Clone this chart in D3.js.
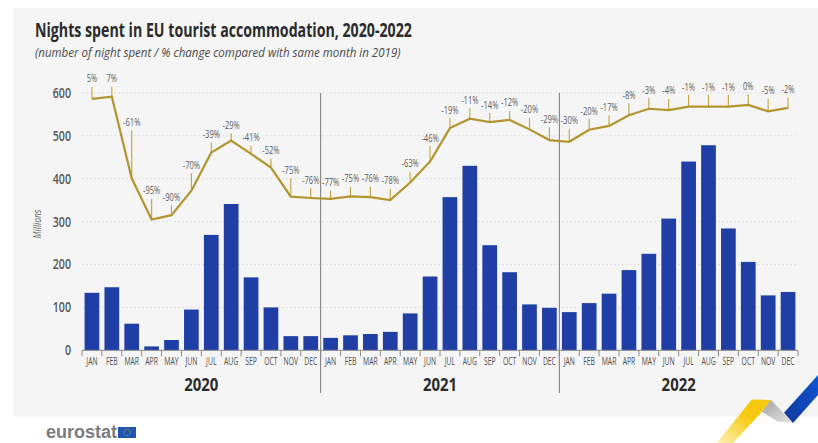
<!DOCTYPE html>
<html>
<head>
<meta charset="utf-8">
<style>
html,body{margin:0;padding:0;background:#fff}
svg{display:block}
</style>
<script src="https://cdn.jsdelivr.net/npm/d3@7"></script>
</head>
<body>
<svg id="chart" width="818" height="443"></svg>
<script>
const months = ["JAN","FEB","MAR","APR","MAY","JUN","JUL","AUG","SEP","OCT","NOV","DEC"];
const years = ["2020","2021","2022"];
const yTicks = [0,100,200,300,400,500,600];

// Nights spent per month, millions
const nights = [134,147,62,9,24,95,269,341,170,100,33,33,
                29,35,38,43,86,172,357,430,245,182,107,99,
                89,110,132,187,225,307,440,478,284,206,128,136];
// Index line, same unit
const trend = [586,591,401,305,315,372,461,489,458,426,358,355,
               353,359,357,350,391,440,518,540,532,537,515,490,
               486,514,523,548,563,560,568,568,568,572,557,565];
// Height each leader line rises to
const leaderTop = [614,614,513,353,337,413,484,506,477,446,401,378,
                   372,381,381,376,416,476,541,564,553,558,542,520,
                   516,539,548,576,588,586,595,595,595,597,586,589];
// Change against the same month of 2019
const changes = ["5%","7%","-61%","-95%","-90%","-70%","-39%","-29%","-41%","-52%","-75%","-76%",
                 "-77%","-75%","-76%","-78%","-63%","-46%","-19%","-11%","-14%","-12%","-20%","-29%",
                 "-30%","-20%","-17%","-8%","-3%","-4%","-1%","-1%","-1%","0%","-5%","-2%"];

const FONT = "'Open Sans','Noto Sans',sans-serif";
const BLUE = "#1f3fa6", GOLD = "#b3952f", INK = "#2b2b2b";

// The house typeface is condensed, so glyphs are squeezed horizontally by a factor k
const squeezedAt = (px, py, k) => `translate(${px},${py}) scale(${k},1)`;

const svg = d3.select("#chart");
const defs = svg.append("defs");

const x = d3.scaleBand().domain(d3.range(36)).range([82,798]).paddingInner(0.26).paddingOuter(0.13);
const y = d3.scaleLinear().domain([0,600]).range([350.3,92.9]);
const yearStart = i => x.step()*i*12 + 82;
const mid = i => x(i) + x.bandwidth()/2;

// Panel
svg.append("rect").attr("x",13).attr("y",8).attr("width",805).attr("height",408.5).attr("fill","#f5f5f5");

// Heading
svg.append("text").attr("transform",squeezedAt(35,37,0.709)).attr("font-family",FONT).attr("font-weight",700)
  .attr("font-size",20).attr("fill",INK)
  .text("Nights spent in EU tourist accommodation, 2020-2022");
svg.append("text").attr("transform",squeezedAt(35,57,0.961)).attr("font-family",FONT).attr("font-style","italic")
  .attr("font-size",12).attr("fill","#4a4a4a")
  .text("(number of night spent / % change compared with same month in 2019)");

// Gridlines
svg.append("g").selectAll("line").data(yTicks.slice(1)).join("line")
  .attr("x1",82).attr("x2",798).attr("y1",d=>y(d)).attr("y2",d=>y(d))
  .attr("stroke","#e0e0e0").attr("stroke-width",1).attr("stroke-dasharray","2 2");

// Value axis
const yAxis = svg.append("g").attr("transform","translate(71,0)")
  .call(d3.axisLeft(y).tickValues(yTicks).tickSize(0).tickPadding(0));
yAxis.select(".domain").remove();
yAxis.selectAll("text").attr("font-family",FONT).attr("font-weight",600)
  .attr("font-size",14).attr("fill","#555").attr("transform","scale(0.76,1)");
svg.append("text").attr("transform","translate(41,224) rotate(-90) scale(0.85,1)").attr("text-anchor","middle")
  .attr("font-family",FONT).attr("font-style","italic").attr("font-size",10).attr("fill","#666")
  .text("Millions");

// Monthly bars
svg.append("g").selectAll("rect").data(nights).join("rect")
  .attr("x",(d,i)=>x(i)).attr("width",x.bandwidth())
  .attr("y",d=>y(d)).attr("height",d=>y(0)-y(d)).attr("fill",BLUE);

// Year dividers
svg.append("g").selectAll("line").data([1,2]).join("line")
  .attr("x1",yearStart).attr("x2",yearStart).attr("y1",y(600)).attr("y2",393)
  .attr("stroke","#777").attr("stroke-width",1);

// Category axis with month names and ticks on the band edges
svg.append("line").attr("x1",82).attr("x2",798).attr("y1",y(0)).attr("y2",y(0)).attr("stroke","#8a8a8a");
svg.append("g").selectAll("line").data(d3.range(37)).join("line")
  .attr("x1",i=>82+i*x.step()).attr("x2",i=>82+i*x.step()).attr("y1",y(0)).attr("y2",y(0)+6)
  .attr("stroke","#8a8a8a");
svg.append("g").selectAll("text").data(d3.range(36)).join("text")
  .attr("transform",i=>squeezedAt(mid(i),364.5,0.62)).attr("text-anchor","middle")
  .attr("font-family",FONT).attr("font-size",11).attr("fill","#4f4f4f")
  .text(i=>months[i%12]);

// Year labels
svg.append("g").selectAll("text").data(years).join("text")
  .attr("transform",(d,i)=>squeezedAt(yearStart(i)+x.step()*6,391,0.83)).attr("text-anchor","middle")
  .attr("font-family",FONT).attr("font-weight",700).attr("font-size",18).attr("fill",INK)
  .text(d=>d);

// Leader lines with the percentage above each
svg.append("g").selectAll("line").data(trend).join("line")
  .attr("x1",(d,i)=>mid(i)).attr("x2",(d,i)=>mid(i))
  .attr("y1",d=>y(d)).attr("y2",(d,i)=>y(leaderTop[i]))
  .attr("stroke","#c4a94c").attr("stroke-width",1.2);
svg.append("g").selectAll("text").data(changes).join("text")
  .attr("transform",(d,i)=>squeezedAt(mid(i),y(leaderTop[i])-4.5,0.72)).attr("text-anchor","middle")
  .attr("font-family",FONT).attr("font-size",10.5).attr("fill","#5c5c5c")
  .text(d=>d);

// Trend line
const line = d3.line().x((d,i)=>mid(i)).y(d=>y(d));
svg.append("path").datum(trend).attr("d",line).attr("fill","none").attr("stroke",GOLD).attr("stroke-width",2.2);

// Footer wordmark and flag
svg.append("text").attr("x",46).attr("y",438).attr("font-family","'Liberation Sans',sans-serif").attr("font-weight",700)
  .attr("font-size",18).attr("fill","#7b7b7f").text("eurostat");
svg.append("rect").attr("x",118).attr("y",427).attr("width",18).attr("height",11).attr("fill","#1f55b0");
svg.append("circle").attr("cx",127).attr("cy",432.5).attr("r",3.2).attr("fill","none")
  .attr("stroke","#b9ad55").attr("stroke-width",1).attr("stroke-dasharray","1 1");

// Corner ribbon
const gy = defs.append("linearGradient").attr("id","ribbonGold").attr("x1","1").attr("y1","0").attr("x2","0").attr("y2","1");
gy.append("stop").attr("offset","0.4").attr("stop-color","#f6c90e");
gy.append("stop").attr("offset","1").attr("stop-color","#fdf0b5");
const gg = defs.append("linearGradient").attr("id","ribbonGrey").attr("x1","0").attr("y1","0").attr("x2","1").attr("y2","1");
gg.append("stop").attr("offset","0").attr("stop-color","#a3a3a3");
gg.append("stop").attr("offset","1").attr("stop-color","#e6e6e6");
const gb = defs.append("linearGradient").attr("id","ribbonBlue").attr("x1","0").attr("y1","1").attr("x2","1").attr("y2","0");
gb.append("stop").attr("offset","0").attr("stop-color","#12399b");
gb.append("stop").attr("offset","1").attr("stop-color","#0f55d6");
const ribbon = svg.append("g");
ribbon.append("path").attr("d","M716.7,443 L751.7,399.5 L771,400 L762,411.7 L733,443 Z").attr("fill","url(#ribbonGold)");
ribbon.append("path").attr("d","M771,400 L793,423 L778,421.7 L762,411.7 Z").attr("fill","url(#ribbonGrey)");
ribbon.append("path").attr("d","M784,412.7 L818,375 L818,395 L793,423 Z").attr("fill","url(#ribbonBlue)");
</script>
</body>
</html>
